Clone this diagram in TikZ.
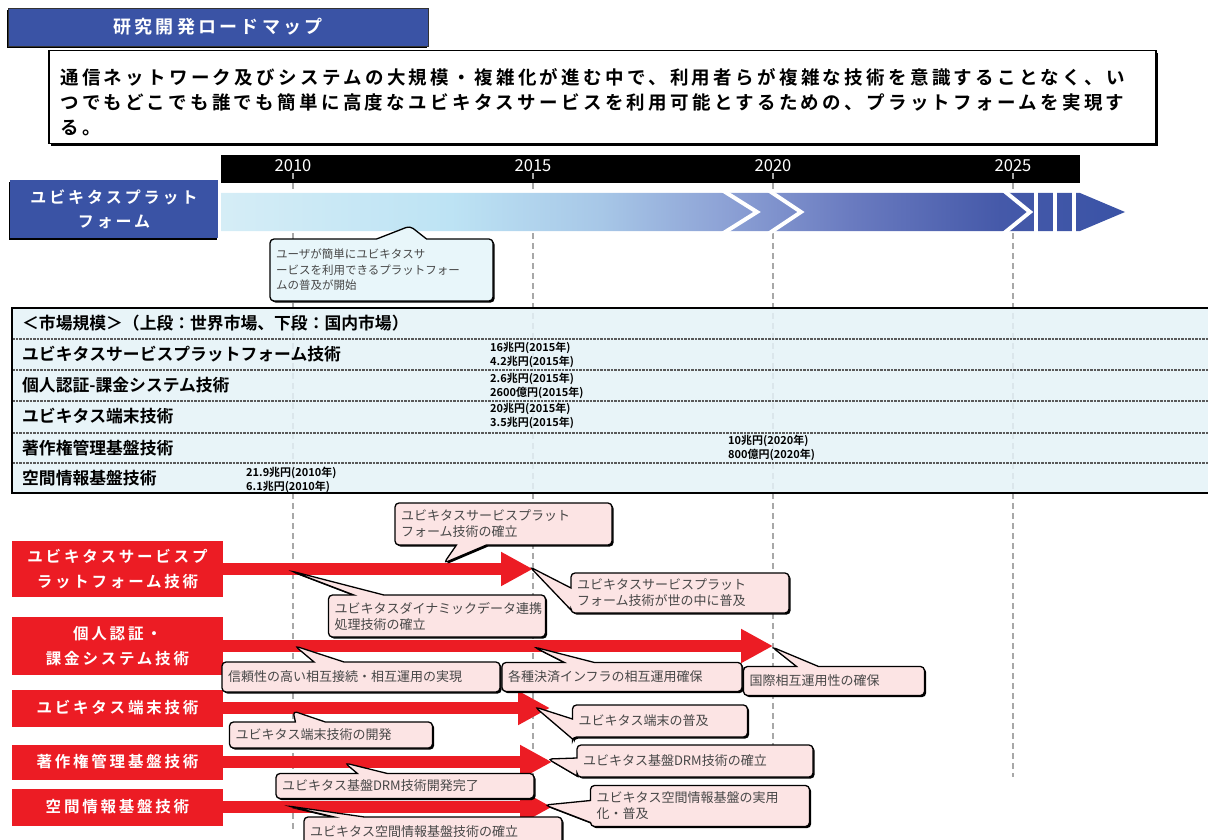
\documentclass[tikz,border=0pt]{standalone}
\usepackage{fontspec}
\setmainfont{Noto Sans CJK JP}[BoldFont={Noto Sans CJK JP Bold}]
\newfontfamily\widejp{Noto Sans CJK JP}[BoldFont={Noto Sans CJK JP Bold},LetterSpace=18]
\usepackage{tikz}
\usetikzlibrary{arrows.meta,shapes.callouts,shadows}

\definecolor{mapblue}{HTML}{3A53A5}
\definecolor{techred}{HTML}{EC1C24}
\definecolor{notepink}{HTML}{FCE4E4}
\definecolor{noteblue}{HTML}{E8F6FA}
\definecolor{marketbg}{HTML}{E4F2F7}
\definecolor{yeargray}{HTML}{A8A8A8}
\definecolor{pfA}{HTML}{D5EDF6}
\definecolor{pfB}{HTML}{BDE3F4}
\definecolor{pfC}{HTML}{A7C7E7}
\definecolor{pfD}{HTML}{8EA3D6}
\definecolor{pfE}{HTML}{6A7BC0}
\definecolor{pfF}{HTML}{4559A9}
\definecolor{pfG}{HTML}{3A53A6}
\pgfdeclarehorizontalshading{pfshade}{100bp}{color(0bp)=(pfA); color(25bp)=(pfA); color(37.7bp)=(pfB); color(46bp)=(pfC); color(52.6bp)=(pfD); color(59.8bp)=(pfE); color(68.1bp)=(pfF); color(75bp)=(pfG); color(100bp)=(pfG)}

\tikzstyle{bluebox} = [fill=mapblue, text=white, align=center, inner sep=0pt, font=\widejp\bfseries\fontsize{16}{24}\selectfont]
\tikzstyle{techbox} = [fill=techred, text=white, align=center, inner sep=0pt, minimum width=211pt, font=\widejp\bfseries\fontsize{15.5}{25}\selectfont]
\tikzstyle{techarrow} = [draw=techred, line width=12pt, -{Triangle[length=32pt,width=32pt]}]
\tikzstyle{note} = [rectangle callout, draw=black, line width=1.3pt, rounded corners=4pt, fill=notepink, text=black!72, align=left, inner xsep=6pt, inner ysep=3pt, callout pointer width=30pt, font=\fontsize{13}{16}\selectfont, drop shadow={shadow xshift=1.6pt, shadow yshift=-1.6pt, opacity=1, fill=black}]
\tikzstyle{rowlbl} = [anchor=west, inner sep=0pt, font=\bfseries\fontsize{16.8}{18}\selectfont]
\tikzstyle{sizelbl} = [anchor=west, align=left, inner sep=0pt, font=\bfseries\fontsize{11}{13.5}\selectfont]
\tikzstyle{yearlbl} = [text=white, inner sep=1pt, font=\fontsize{16.5}{18}\selectfont]
\tikzstyle{yearline} = [draw=yeargray, line width=2pt, dash pattern=on 6pt off 4pt]
\tikzstyle{rowsep} = [draw=black!65, line width=1.4pt, dash pattern=on 2.5pt off 1pt]

\begin{document}
\begin{tikzpicture}[x=1pt, y=-1pt]
    \useasboundingbox (0,0) rectangle (1208,840);

    % heading and goal
    \draw (218,27) node[bluebox, minimum width=420pt, minimum height=38pt, draw=black!80, line width=0.8pt, font=\widejp\bfseries\fontsize{18}{20}\selectfont, drop shadow={shadow xshift=-1.5pt, shadow yshift=-2.5pt, opacity=1, fill=black}] (title) {研究開発ロードマップ};
    \draw (48,50) node[anchor=north west, fill=white, draw=black, line width=1.5pt, minimum width=1107pt, minimum height=93pt, drop shadow={shadow xshift=2pt, shadow yshift=-2.5pt, opacity=1, fill=black}] (goalbox) {};
    \draw (60,102) node[anchor=west, align=left, inner sep=0pt, font=\widejp\bfseries\fontsize{18.5}{25}\selectfont] (goaltext) {通信ネットワーク及びシステムの大規模・複雑化が進む中で、利用者らが複雑な技術を意識することなく、い\\つでもどこでも誰でも簡単に高度なユビキタスサービスを利用可能とするための、プラットフォームを実現す\\る。};

    % time axis
    \fill[black] (221,155) rectangle (1080,183);
    \draw (293,166) node[yearlbl] (y2010) {2010};
    \draw (533,166) node[yearlbl] (y2015) {2015};
    \draw (773,166) node[yearlbl] (y2020) {2020};
    \draw (1013,166) node[yearlbl] (y2025) {2025};
    \draw[yearline] (y2010.south) -- (293,832);
    \draw[yearline] (y2015.south) -- (533,832);
    \draw[yearline] (y2020.south) -- (773,777);
    \draw[yearline] (y2025.south) -- (1013,777);

    % platform arrow
    \draw (114,209) node[bluebox, minimum width=208pt, minimum height=58pt, drop shadow={shadow xshift=-1.5pt, shadow yshift=-2pt, opacity=1, fill=black}] (pflabel) {ユビキタスプラット\\フォーム};
    \shade[shading=pfshade] (221,193) -- (1080,193) -- (1125,212) -- (1080,231) -- (221,231) -- cycle;
    \draw[white, line width=4pt] (722,190) -- (757,212) -- (722,234);
    \draw[white, line width=4pt] (768,190) -- (801,212) -- (768,234);
    \draw[white, line width=4pt] (1003,190) -- (1030,212) -- (1003,234);
    \foreach \gx in {1036,1055,1074}
        \draw[white, line width=3.5pt] (\gx,190) -- (\gx,234);
    \coordinate (pftip) at (410,226);
    \draw (381.5,270) node[note, fill=noteblue, text width=211pt, minimum height=62pt, callout absolute pointer={(pftip)}, callout pointer width=50pt, font=\fontsize{11.5}{15.5}\selectfont] (pfnote) {ユーザが簡単にユビキタスサ\\ービスを利用できるプラットフォー\\ムの普及が開始};

    % market size table
    \fill[marketbg, fill opacity=0.85] (12,308) rectangle (1212,493);
    \foreach \ry in {339,370,401,433,463}
        \draw[rowsep] (12,\ry) -- (1212,\ry);
    \draw[line width=2.2pt] (1212,308) -- (12,308) -- (12,493) -- (1212,493);
    \draw (22,323) node[rowlbl] (mkthead) {＜市場規模＞（上段：世界市場、下段：国内市場）};
    \draw (22,354) node[rowlbl] (mktpf) {ユビキタスサービスプラットフォーム技術};
    \draw (22,385) node[rowlbl] (mktauth) {個人認証-課金システム技術};
    \draw (22,416) node[rowlbl] (mktterm) {ユビキタス端末技術};
    \draw (22,448) node[rowlbl] (mktdrm) {著作権管理基盤技術};
    \draw (22,478) node[rowlbl] (mktgeo) {空間情報基盤技術};
    \draw (490,355) node[sizelbl] (szpf) {16兆円(2015年)\\4.2兆円(2015年)};
    \draw (490,386) node[sizelbl] (szauth) {2.6兆円(2015年)\\2600億円(2015年)};
    \draw (490,416) node[sizelbl] (szterm) {20兆円(2015年)\\3.5兆円(2015年)};
    \draw (728,448) node[sizelbl] (szdrm) {10兆円(2020年)\\800億円(2020年)};
    \draw (246,480) node[sizelbl] (szgeo) {21.9兆円(2010年)\\6.1兆円(2010年)};

    % technology arrows
    \draw (117.5,569) node[techbox, minimum height=56pt] (techpf) {ユビキタスサービスプ\\ラットフォーム技術};
    \draw (117.5,646) node[techbox, minimum height=58pt] (techauth) {個人認証・\\課金システム技術};
    \draw (117.5,708) node[techbox, minimum height=37pt] (techterm) {ユビキタス端末技術};
    \draw (117.5,762) node[techbox, minimum height=35pt] (techdrm) {著作権管理基盤技術};
    \draw (117.5,807) node[techbox, minimum height=37pt] (techgeo) {空間情報基盤技術};
    \coordinate (endpf) at (533,569);
    \coordinate (endauth) at (773,646);
    \coordinate (endterm) at (550,708);
    \coordinate (enddrm) at (552,762);
    \coordinate (endgeo) at (552,807);
    \draw[techarrow] (techpf) -- (endpf);
    \draw[techarrow] (techauth) -- (endauth);
    \draw[techarrow] (techterm) -- (endterm);
    \draw[techarrow] (techdrm) -- (enddrm);
    \draw[techarrow] (techgeo) -- (endgeo);

    % milestones
    \coordinate (tipa) at (444,563);
    \coordinate (tipb) at (530,567);
    \coordinate (tipc) at (291,571);
    \coordinate (tipd) at (295,646);
    \coordinate (tipe) at (534,647);
    \coordinate (tipf) at (772,647);
    \coordinate (tipg) at (535,707);
    \coordinate (tiph) at (293,711);
    \coordinate (tipi) at (548,759);
    \coordinate (tipj) at (345,763);
    \coordinate (tipk) at (545,805);
    \coordinate (tipl) at (288,806);
    \draw (503.5,524) node[note, text width=205pt, minimum height=42pt, callout absolute pointer={(tipa)}] (pfdone) {ユビキタスサービスプラット\\フォーム技術の確立};
    \draw (680,593) node[note, text width=206pt, minimum height=40pt, callout absolute pointer={(tipb)}, callout pointer width=22pt] (pfspread) {ユビキタスサービスプラット\\フォーム技術が世の中に普及};
    \draw (437,616) node[note, text width=205pt, minimum height=42pt, callout absolute pointer={(tipc)}] (pfdyn) {ユビキタスダイナミックデータ連携\\処理技術の確立};
    \draw (361,677) node[note, text width=266pt, minimum height=30pt, callout absolute pointer={(tipd)}] (authlink) {信頼性の高い相互接続・相互運用の実現};
    \draw (622,677) node[note, text width=228pt, minimum height=29pt, callout absolute pointer={(tipe)}] (authpay) {各種決済インフラの相互運用確保};
    \draw (834,681) node[note, text width=169pt, minimum height=29pt, callout absolute pointer={(tipf)}, callout pointer width=22pt] (authintl) {国際相互運用性の確保};
    \draw (660,721) node[note, text width=163pt, minimum height=32pt, callout absolute pointer={(tipg)}, callout pointer width=20pt] (termspread) {ユビキタス端末の普及};
    \draw (331,735) node[note, text width=191pt, minimum height=26pt, callout absolute pointer={(tiph)}] (termdev) {ユビキタス端末技術の開発};
    \draw (695,761) node[note, text width=224pt, minimum height=32pt, callout absolute pointer={(tipi)}, callout pointer width=18pt] (drmdone) {ユビキタス基盤DRM技術の確立};
    \draw (405,786) node[note, text width=246pt, minimum height=25pt, callout absolute pointer={(tipj)}] (drmdev) {ユビキタス基盤DRM技術開発完了};
    \draw (700,806) node[note, text width=207pt, minimum height=41pt, callout absolute pointer={(tipk)}, callout pointer width=22pt] (geouse) {ユビキタス空間情報基盤の実用\\化・普及};
    \draw (433,832) node[note, text width=246pt, minimum height=30pt, callout absolute pointer={(tipl)}] (geodone) {ユビキタス空間情報基盤技術の確立};
\end{tikzpicture}
\end{document}
